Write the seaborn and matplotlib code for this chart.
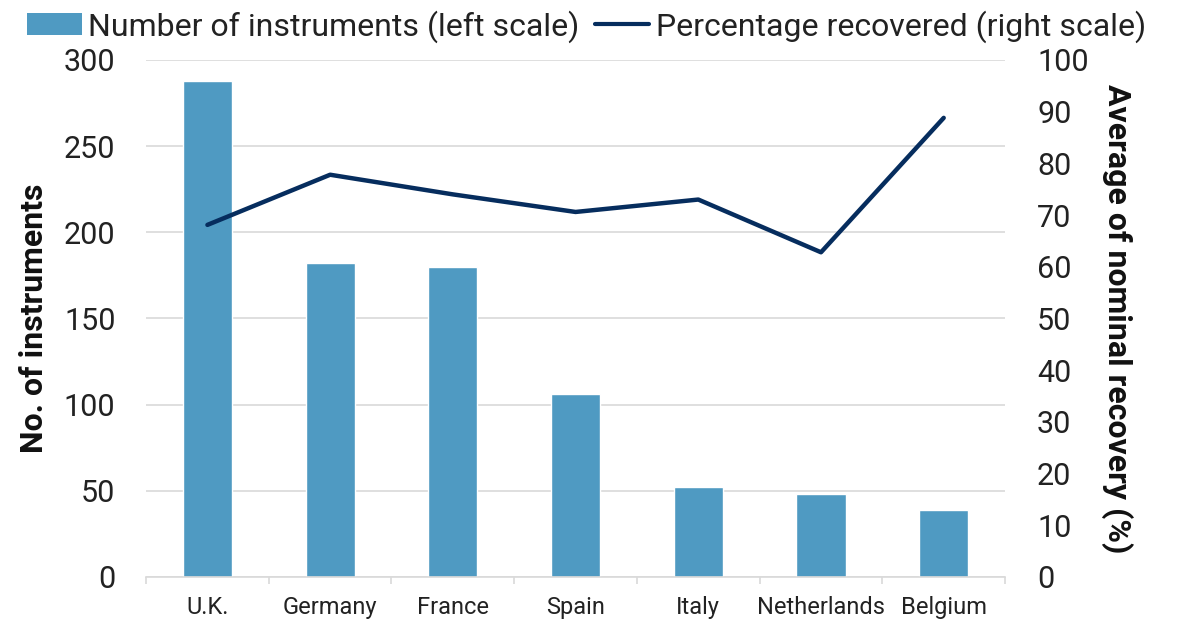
import matplotlib
matplotlib.use("Agg")
import matplotlib.pyplot as plt
from matplotlib.patches import Patch
from matplotlib.lines import Line2D
import seaborn as sns
import pandas as pd
import numpy as np

countries = ["U.K.", "Germany", "France", "Spain", "Italy", "Netherlands", "Belgium"]
instruments = [288, 182, 180, 106, 52, 48, 39]
recovery_pct = [68.1, 77.8, 74.0, 70.6, 73.0, 62.8, 88.8]

bar_color = "#4F9AC2"
line_color = "#062D5E"
grid_color = "#D9D9D9"
text_color = "#222222"

sns.set_theme(style="white")
plt.rcParams["font.family"] = ["Roboto", "DejaVu Sans"]

df = pd.DataFrame({"country": countries, "instruments": instruments, "recovery": recovery_pct})

fig = plt.figure(figsize=(11.78, 6.2), dpi=100)
ax = fig.add_axes([0.1240, 0.0694, 0.7292, 0.8339])

sns.barplot(data=df, x="country", y="instruments", color=bar_color, width=0.4,
            saturation=1, ax=ax, zorder=2)
ax.set_ylim(0, 300)
ax.set_yticks(np.arange(0, 301, 50))
ax.set_xlim(-0.5, len(countries) - 0.5)
ax.grid(axis="y", color=grid_color, linewidth=1.2, zorder=0)
ax.set_axisbelow(True)
for s in ["top", "right", "left"]:
    ax.spines[s].set_visible(False)
ax.spines["bottom"].set_color(grid_color)
ax.spines["bottom"].set_linewidth(1.2)

# tick marks between categories, labels centred under bars
ax.set_xticks(np.arange(len(countries)))
ax.set_xticklabels(countries)
ax.set_xticks(np.arange(-0.5, len(countries)), minor=True)
ax.tick_params(axis="x", which="major", length=0, pad=14, labelsize=17, colors=text_color)
ax.tick_params(axis="x", which="minor", length=5, width=1.2, color=grid_color, bottom=True)
ax.tick_params(axis="y", length=0, labelsize=22, colors=text_color, pad=22)
ax.set_xlabel("")
ax.set_ylabel("No. of instruments", fontsize=23, fontweight="bold", labelpad=11, color="#111111")

ax2 = ax.twinx()
sns.lineplot(data=df, x="country", y="recovery", color=line_color, linewidth=3.2,
             ax=ax2, sort=False)
ax2.set_ylim(0, 100)
ax2.set_yticks(np.arange(0, 101, 10))
ax2.set_xlim(-0.5, len(countries) - 0.5)
for s in ["top", "right", "left", "bottom"]:
    ax2.spines[s].set_visible(False)
ax2.tick_params(axis="y", length=0, labelsize=22, colors=text_color, pad=23)
ax2.set_ylabel("Average of nominal recovery (%)", fontsize=23, fontweight="bold",
               rotation=-90, labelpad=32, color="#111111")
ax2.set_xlabel("")

handles = [Patch(facecolor=bar_color, edgecolor="none"),
           Line2D([0], [0], color=line_color, linewidth=3)]
fig.legend(handles, ["Number of instruments (left scale)", "Percentage recovered (right scale)"],
           loc="upper center", bbox_to_anchor=(0.498, 1.03), ncol=2, frameon=False,
           fontsize=23, handlelength=1.7, handletextpad=0.2, columnspacing=0.5,
           labelcolor=text_color)

fig.savefig("out.png", dpi=100)
